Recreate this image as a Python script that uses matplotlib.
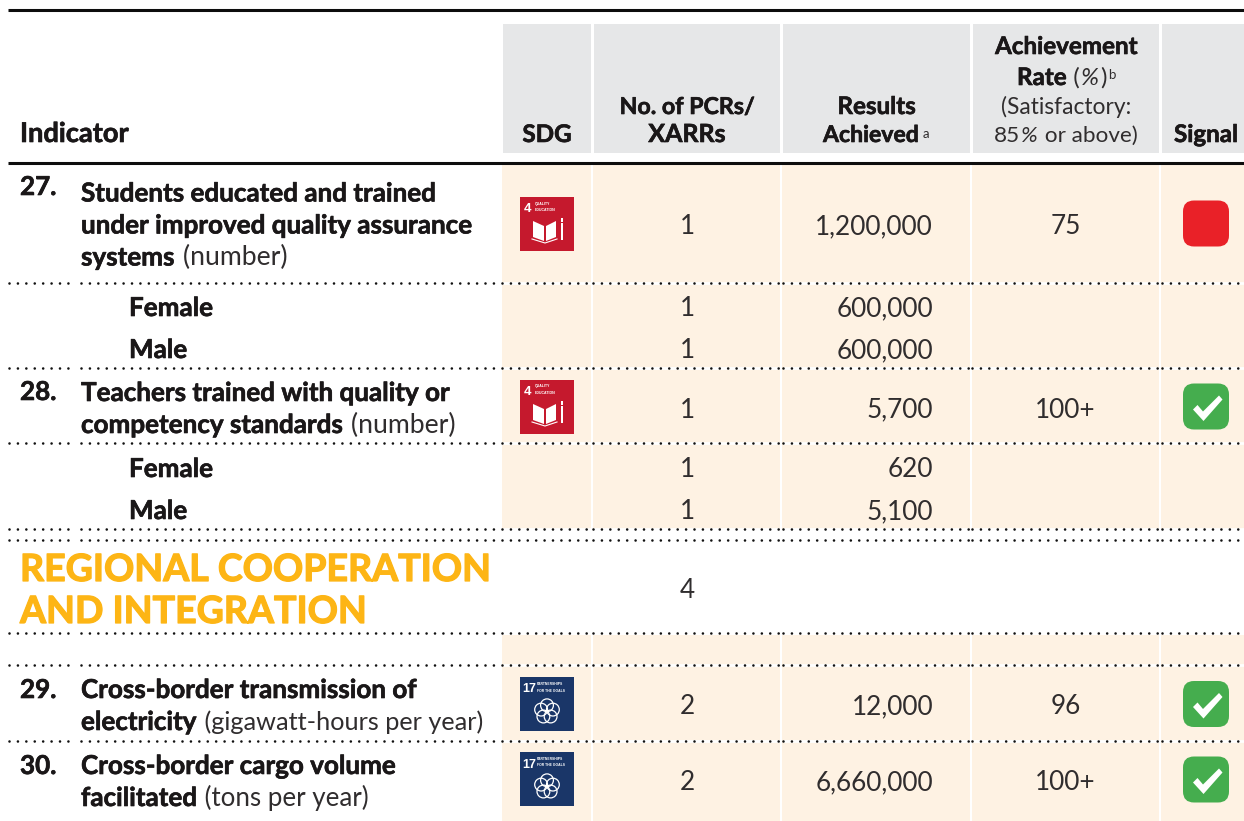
import matplotlib
matplotlib.use("Agg")
import matplotlib.pyplot as plt
from matplotlib.patches import Rectangle, FancyBboxPatch, Polygon, Circle
import matplotlib.patheffects as pe

# ---------- data ----------
indicator_numbers = ["27.", "28.", "29.", "30."]
indicator_bold = [["Students educated and trained", "under improved quality assurance", "systems"],
                  ["Teachers trained with quality or", "competency standards"],
                  ["Cross-border transmission of", "electricity"],
                  ["Cross-border cargo volume", "facilitated"]]
indicator_units = ["(number)", "(number)", "(gigawatt-hours per year)", "(tons per year)"]
sdg_goals = [4, 4, 17, 17]
pcrs = [1, 1, 2, 2]
results = [1200000, 5700, 12000, 6660000]
rates = ["75", "100+", "96", "100+"]
signals = ["red", "green", "green", "green"]
sub_labels = ["Female", "Male", "Female", "Male"]
sub_pcrs = [1, 1, 1, 1]
sub_results = [600000, 600000, 620, 5100]
section_title = ["REGIONAL COOPERATION", "AND INTEGRATION"]
section_pcrs = 4

# ---------- layout (pixels) ----------
W, H = 1244, 821
plt.rcParams["lines.scale_dashes"] = False
fig = plt.figure(figsize=(W / 100, H / 100), dpi=100)
ax = fig.add_axes([0, 0, 1, 1])
ax.set_xlim(0, W)
ax.set_ylim(H, 0)
ax.axis("off")

INK = "#1a1718"
SOFT = "#302d2e"
GREY = "#E6E7E8"
CREAM = "#FEF2E3"
GOLD = "#FDB515"
FONT = "Lato"
BASE = 18.75
HEAD = 17.4
LIGHT = 18.8
unit_sizes = [19.2, 19.2, 18.2, 18.6]
cols = [(503, 591), (594, 780), (783, 970), (973, 1159), (1162, 1244)]
dot_segments = [(9, 71), (81, 500), (502, 591), (593, 781), (783, 970), (972, 1160), (1162, 1244)]

for a, b in cols:
    ax.add_patch(Rectangle((a, 24), b - a, 129, fc=GREY, ec="none", zorder=1))
    ax.add_patch(Rectangle((a - 1, 165), b - a + 1, 364, fc=CREAM, ec="none", zorder=1))
    ax.add_patch(Rectangle((a - 1, 635), b - a + 1, 186, fc=CREAM, ec="none", zorder=1))

ax.plot([8, W], [10.5, 10.5], color="#0d0d0d", lw=2.2, solid_capstyle="butt", zorder=3)
ax.plot([8, W], [163.5, 163.5], color="#0d0d0d", lw=2.2, solid_capstyle="butt", zorder=3)


def dotted(y):
    for a, b in dot_segments:
        if a >= 502:
            ax.plot([a, b], [y, y], color="white", lw=2.0, solid_capstyle="butt", zorder=2)
        ax.plot([a, b], [y, y], color="#111111", lw=1.9, ls=(0, (0.01, 6.05)),
                dash_capstyle="round", zorder=3)


for y in [283.5, 368.5, 443.5, 529, 540, 633.5, 665.5, 741]:
    dotted(y)


def put(x, y, s, weight, size, ha="left", color=None, style="normal"):
    if color is None:
        color = INK if weight == "bold" else SOFT
    t = ax.text(x, y, s, fontsize=size, fontweight="bold" if weight == "bold" else "normal",
                fontstyle=style, family=FONT, color=color, va="baseline", ha=ha, zorder=4)
    if weight == "bold":
        t.set_path_effects([pe.withStroke(linewidth=0.45, foreground=color)])
    return t


def spans(x, y, parts):
    """Lay text runs along one baseline; a run is (text, weight, size[, style])."""
    rend = fig.canvas.get_renderer()
    for part in parts:
        s, weight, size = part[:3]
        style = part[3] if len(part) > 3 else "normal"
        t = put(x, y, s, weight, size, style=style)
        x = t.get_window_extent(rend).x1 + 1


def centered(cx, y, s, weight, size):
    put(cx, y, s, weight, size, ha="center")


# header
spans(20, 142, [("Indicator", "bold", 19.6)])
centered(547, 142, "SDG", "bold", HEAD)
centered(687, 114, "No. of PCRs/", "bold", 16.7)
centered(687, 142, "XARRs", "bold", 18.0)
centered(876.5, 114, "Results", "bold", HEAD)
put(823, 142, "Achieved", "bold", 16.6)
put(922.5, 138, "a", "normal", 9.5)
centered(1066, 54, "Achievement", "bold", HEAD)
spans(1017, 85, [("Rate", "bold", HEAD), (" (", "normal", 17.5), ("%", "normal", 17.5, "italic"),
                 (")", "normal", 17.5)])
put(1108, 79, "b", "normal", 9.5)
centered(1066, 114, "(Satisfactory:", "normal", 16.4)
spans(994, 142, [("85", "normal", 16.2), ("%", "normal", 16.2, "italic"), (" or above)", "normal", 16.2)])
centered(1206, 142, "Signal", "bold", HEAD)

first_lines = [201.5, 401, 698, 774]
num_lines = [195, 400, 698, 774]
icon_tops = [197, 380, 677, 752]
signal_tops = [200.5, 383.5, 681, 756.5]
value_lines = [234.5, 417.5, 714.5, 790.5]
LINE = 32


def fmt(v):
    return f"{v:,}"


def icon(goal, x, y):
    s = 54
    label = {"family": "Liberation Sans", "fontweight": "bold", "color": "white",
             "va": "baseline", "zorder": 4}
    if goal == 4:
        ax.add_patch(Rectangle((x, y), s, s, fc="#C5192D", ec="none", zorder=3))
        ax.text(x + 7.5, y + 15, "4", fontsize=9.5, ha="center", **label)
        ax.text(x + 14.5, y + 7.5, "QUALITY", fontsize=2.5, **label)
        ax.text(x + 14.5, y + 14, "EDUCATION", fontsize=2.5, **label)
        ax.add_patch(Polygon([(x + 13, y + 24), (x + 24, y + 29), (x + 24, y + 44), (x + 13, y + 40)],
                             fc="white", ec="none", zorder=4))
        ax.add_patch(Polygon([(x + 36, y + 24), (x + 26, y + 29), (x + 26, y + 44), (x + 36, y + 40)],
                             fc="white", ec="none", zorder=4))
        ax.plot([x + 12, x + 25, x + 37], [y + 42, y + 46, y + 42], color="white", lw=0.8, zorder=4)
        ax.add_patch(Rectangle((x + 40.5, y + 26), 2.3, 17, fc="white", ec="none", zorder=4))
        ax.add_patch(Rectangle((x + 40.5, y + 21.5), 2.3, 3.2, fc="white", ec="none", zorder=4))
    else:
        ax.add_patch(Rectangle((x, y), s, s, fc="#1A3668", ec="none", zorder=3))
        ax.text(x + 9.5, y + 15.5, "17", fontsize=9, ha="center", **label)
        ax.text(x + 17, y + 8, "PARTNERSHIPS", fontsize=2.4, **label)
        ax.text(x + 17, y + 14.5, "FOR THE GOALS", fontsize=2.4, **label)
        cx, cy = x + 27, y + 34.5
        offs = [(0, -6.2), (5.9, -1.9), (3.6, 5), (-3.6, 5), (-5.9, -1.9)]
        for dx, dy in offs:
            ax.add_patch(Circle((cx + dx, cy + dy), 6.4, fc="none", ec="white", lw=0.9, zorder=4))


def signal(kind, y):
    color = "#E92128" if kind == "red" else "#45AD4E"
    ax.add_patch(FancyBboxPatch((1183 + 11, y + 11), 46 - 22, 46 - 22,
                                boxstyle="round,pad=11,rounding_size=11",
                                fc=color, ec="none", zorder=3))
    if kind == "green":
        ax.add_patch(Polygon([(1193, y + 26), (1197.5, y + 21.5), (1203, y + 28), (1219, y + 12),
                              (1222.5, y + 16), (1203.5, y + 37.5)],
                             fc="white", ec="none", zorder=4))


for i in range(4):
    spans(20, num_lines[i], [(indicator_numbers[i], "bold", BASE)])
    lines = indicator_bold[i]
    for j, line in enumerate(lines):
        parts = [(line, "bold", BASE)]
        if j == len(lines) - 1:
            parts.append((" " + indicator_units[i], "normal", unit_sizes[i]))
        spans(81, first_lines[i] + j * LINE, parts)
    icon(sdg_goals[i], 520, icon_tops[i])
    signal(signals[i], signal_tops[i])
    put(687, value_lines[i], str(pcrs[i]), "normal", LIGHT, ha="center")
    put(933, value_lines[i], fmt(results[i]), "normal", LIGHT, ha="right")
    put(1065.5, value_lines[i], rates[i], "normal", LIGHT, ha="center")

sub_lines = [316, 358, 477, 519]
for i in range(4):
    spans(129, sub_lines[i], [(sub_labels[i], "bold", BASE)])
    put(687, sub_lines[i], str(sub_pcrs[i]), "normal", LIGHT, ha="center")
    put(933, sub_lines[i], fmt(sub_results[i]), "normal", LIGHT, ha="right")

for s, y in zip(section_title, [581, 623]):
    t = put(20, y, s, "bold", 27, color=GOLD)
    t.set_path_effects([pe.withStroke(linewidth=0.9, foreground=GOLD)])
put(687, 597.5, str(section_pcrs), "normal", LIGHT, ha="center")

fig.savefig("out.png", dpi=100)
